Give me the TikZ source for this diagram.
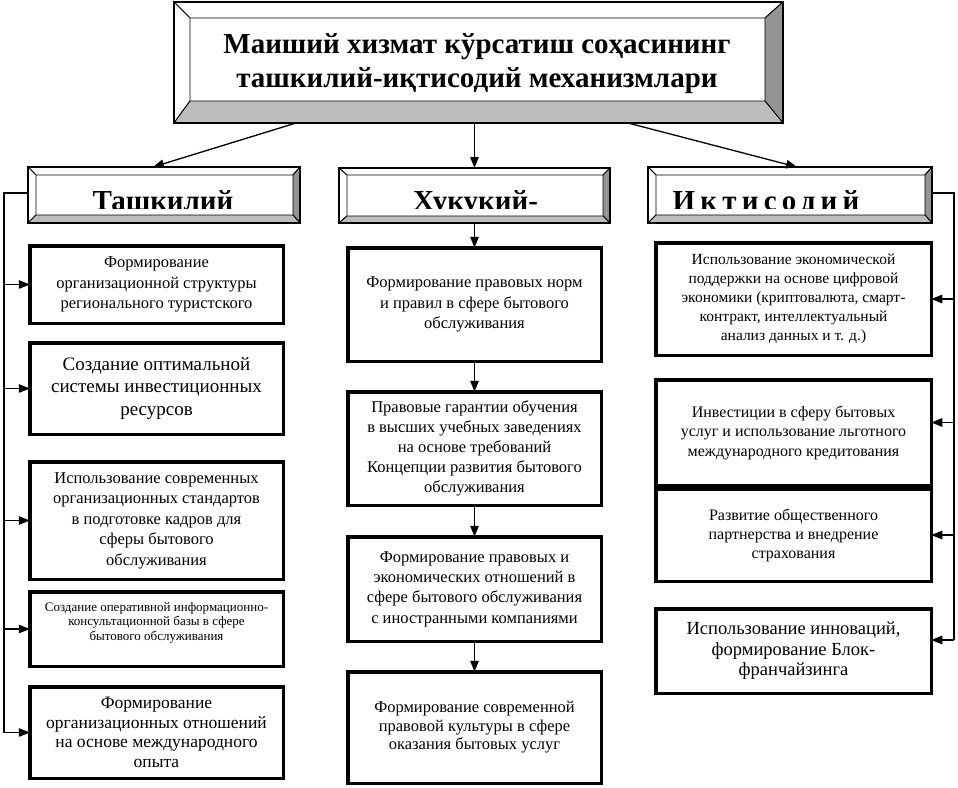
\documentclass[tikz,border=0pt]{standalone}
\usepackage{fontspec}
\setmainfont{Liberation Serif}
\usetikzlibrary{arrows.meta,calc}
\newcommand\myfs[2]{\fontsize{#1pt}{#2pt}\selectfont}
\definecolor{bevdark}{gray}{0.58}
\definecolor{bevlight}{gray}{0.74}
% #1 node, #2 left, #3 top, #4 right, #5 bottom bevel widths
\newcommand\mybevel[5]{%
  \fill[white,draw=black,line width=0.9pt] (#1.north west) -- (#1.north east) -- ($(#1.north east)+(-#4,#3)$) -- ($(#1.north west)+(#2,#3)$) -- cycle;
  \fill[white,draw=black,line width=0.9pt] (#1.north west) -- ($(#1.north west)+(#2,#3)$) -- ($(#1.south west)+(#2,-#5)$) -- (#1.south west) -- cycle;
  \fill[bevdark,draw=black,line width=0.9pt] (#1.north east) -- (#1.south east) -- ($(#1.south east)+(-#4,-#5)$) -- ($(#1.north east)+(-#4,#3)$) -- cycle;
  \fill[bevlight,draw=black,line width=0.9pt] (#1.south west) -- (#1.south east) -- ($(#1.south east)+(-#4,-#5)$) -- ($(#1.south west)+(#2,-#5)$) -- cycle;
  \draw[line width=1.2pt] (#1.north west) rectangle (#1.south east);
}
\begin{document}
\begin{tikzpicture}[x=1pt,y=-1pt,
  frame/.style n args={2}{inner sep=0pt, outer sep=0pt, minimum width=#1, minimum height=#2},
  box/.style n args={2}{draw, line width=3.5pt, inner sep=2pt, outer sep=0pt, align=center, minimum width=#1, minimum height=#2},
  htext/.style={inner sep=0pt, font={\myfs{29}{33}\bfseries\addfontfeatures{LetterSpace=#1}}},
  ln/.style={line width=1.3pt},
  arr/.style={line width=1.3pt, -{Triangle[length=11pt,width=8.5pt]}}]
\useasboundingbox (0,0) rectangle (958,787);

% title
\node[frame={609}{121}] (title) at (478.5,62.5) {};
\mybevel{title}{16}{16}{18}{22}
\node[align=center, inner sep=0pt, font={\myfs{29}{34}\bfseries}] (titlet) at (477,64) {Маиший хизмат кўрсатиш соҳасининг\\ташкилий-иқтисодий механизмлари};

% headers
\node[frame={272}{56}] (H1) at (164,195) {};
\node[frame={271}{55}] (H2) at (474.5,195.5) {};
\node[frame={284}{56}] (H3) at (790,195) {};
\mybevel{H1}{8}{8}{7}{8}
\mybevel{H2}{8}{7}{7}{7}
\mybevel{H3}{8}{8}{7}{8}
\begin{scope}
  \clip ($(H1.north west)+(8,8)$) rectangle ($(H1.south east)+(-7,-15)$);
  \node[htext=0, anchor=base] (H1t) at (163,210) {Ташкилий};
\end{scope}
\begin{scope}
  \clip ($(H2.north west)+(8,7)$) rectangle ($(H2.south east)+(-7,-15)$);
  \node[htext=0, anchor=base] (H2t) at (475.5,210) {Хукукий-};
\end{scope}
\begin{scope}
  \clip ($(H3.north west)+(8,8)$) rectangle ($(H3.south east)+(-7,-15)$);
  \node[htext=18, anchor=base] (H3t) at (766,210) {Иктисодий};
\end{scope}

% left column
\node[box={253.5}{77.5}, font={\myfs{16.5}{20.5}}] (L1) at (156.5,284.5) {Формирование\\организационной структуры\\регионального туристского};
\node[box={253.5}{91.5}, font={\myfs{19}{22.5}}] (L2) at (156.5,388.5) {Создание оптимальной\\системы инвестиционных\\ресурсов};
\node[box={253.5}{117.5}, font={\myfs{16.5}{20.5}}] (L3) at (156.5,520.5) {Использование современных\\организационных стандартов\\в подготовке кадров для\\сферы бытового\\обслуживания};
\node[box={253.5}{74.5}] (L4) at (156.5,629) {};
\node[align=center, inner sep=0pt, font={\myfs{13}{14.5}}] (L4t) at (156.5,622.5) {Создание оперативной информационно-\\консультационной базы в сфере\\бытового обслуживания};
\node[box={253.5}{91.5}, font={\myfs{17.5}{19.5}}] (L5) at (156.5,732.5) {Формирование\\организационных отношений\\на основе международного\\опыта};

% middle column
\node[box={253.5}{113.5}, font={\myfs{16.5}{20.5}}] (M1) at (474.5,304.5) {Формирование правовых норм\\и правил в сфере бытового\\обслуживания};
\node[box={253.5}{113.5}, font={\myfs{16.5}{20}}] (M2) at (474.5,448.5) {Правовые гарантии обучения\\в высших учебных заведениях\\на основе требований\\Концепции развития бытового\\обслуживания};
\node[box={253.5}{104.5}, font={\myfs{16.5}{20.3}}] (M3) at (474.5,589) {Формирование правовых и\\экономических отношений в\\сфере бытового обслуживания\\с иностранными компаниями};
\node[box={253.5}{111.5}, font={\myfs{16.5}{18.5}}] (M4) at (474.5,727.5) {Формирование современной\\правовой культуры в сфере\\оказания бытовых услуг};

% right column
\node[box={275.5}{112.5}, font={\myfs{15.5}{19}}] (R1) at (793.5,299) {Использование экономической\\поддержки на основе цифровой\\экономики (криптовалюта, смарт-\\контракт, интеллектуальный\\анализ данных и т. д.)};
\node[box={275.5}{105.5}, font={\myfs{16}{19.5}}] (R2) at (793.5,432.5) {Инвестиции в сферу бытовых\\услуг и использование льготного\\международного кредитования};
\node[box={275.5}{92.5}, font={\myfs{16}{19}}] (R3) at (793.5,535) {Развитие общественного\\партнерства и внедрение\\страхования};
\node[box={275.5}{84.5}, font={\myfs{18.5}{20.5}}] (R4) at (793.5,651) {Использование инноваций,\\формирование Блок-\\франчайзинга};

% connectors from title
\draw[arr] ($(title.south west)+(122,0)$) -- ($(H1.north west)+(125,0)$);
\draw[arr] (title.south -| H2.north) -- (H2.north);
\draw[arr] ($(title.south west)+(454,0)$) -- ($(H3.north west)+(149,0)$);

% middle chain
\draw[arr] (H2.south) -- (M1.north);
\draw[arr] (M1.south) -- (M2.north);
\draw[arr] (M2.south) -- (M3.north);
\draw[arr] (M3.south) -- (M4.north);

% left trunk
\coordinate (LT) at (4,193);
\draw[ln] ($(H1.west)+(0,-2)$) -- (LT) -- (LT |- L5.west);
\foreach \n in {L1,L2,L3,L4,L5} \draw[arr] (LT |- \n.west) -- (\n.west);

% right trunk
\coordinate (RT) at (954,193);
\coordinate (R2a) at ($(R2.east)+(0,-10)$);
\coordinate (R4a) at ($(R4.east)+(0,-11)$);
\draw[ln] ($(H3.east)+(0,-2)$) -- (RT) -- (RT |- R4a);
\draw[arr] (RT |- R1.east) -- (R1.east);
\draw[arr] (RT |- R2a) -- (R2a);
\draw[arr] (RT |- R3.east) -- (R3.east);
\draw[arr] (RT |- R4a) -- (R4a);
\end{tikzpicture}
\end{document}
